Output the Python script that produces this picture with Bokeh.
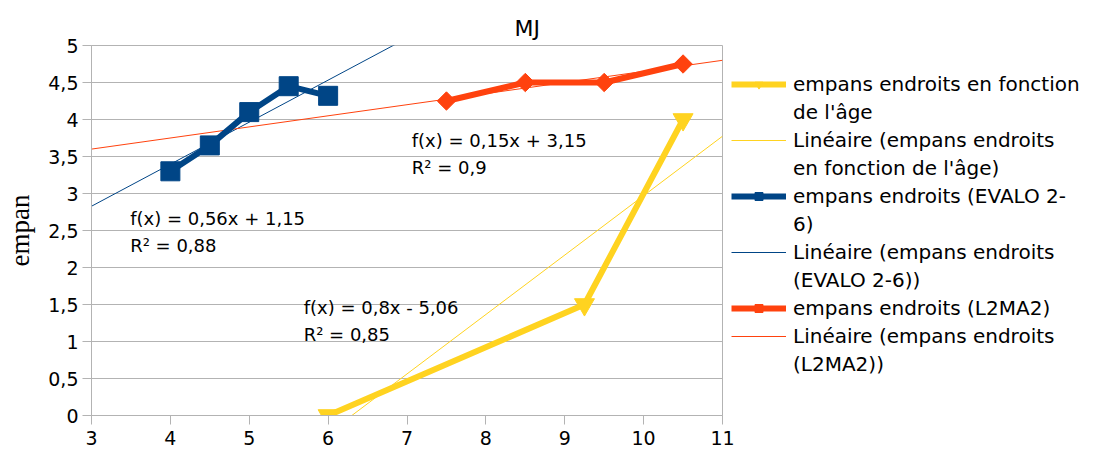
import numpy as np
from bokeh.plotting import figure
from bokeh.models import Legend, LegendItem, Label, FixedTicker, Range1d, CustomJSTickFormatter
from bokeh.embed import file_html
from bokeh.resources import INLINE

# ---- data ----
age_x = [6, 9.25, 10.5]
age_y = [0, 1.5, 4]
evalo_x = [4, 4.5, 5, 5.5, 6]
evalo_y = [3.3, 3.65, 4.1, 4.45, 4.32]
l2ma2_x = [7.5, 8.5, 9.5, 10.5]
l2ma2_y = [4.25, 4.5, 4.5, 4.75]

x_ticks = [3, 4, 5, 6, 7, 8, 9, 10, 11]
y_ticks = [0, 0.5, 1, 1.5, 2, 2.5, 3, 3.5, 4, 4.5, 5]

legend_labels = [
    ["empans endroits en fonction", "de l'âge"],
    ["Linéaire (empans endroits", "en fonction de l'âge)"],
    ["empans endroits (EVALO 2-", "6)"],
    ["Linéaire (empans endroits", "(EVALO 2-6))"],
    ["empans endroits (L2MA2)"],
    ["Linéaire (empans endroits", "(L2MA2))"],
]
eq_age = ["f(x) = 0,8x - 5,06", "R² = 0,85"]
eq_evalo = ["f(x) = 0,56x + 1,15", "R² = 0,88"]
eq_l2ma2 = ["f(x) = 0,15x + 3,15", "R² = 0,9"]

YELLOW = "#FFD320"
BLUE = "#004586"
ORANGE = "#FF420E"
GRID = "#b3b3b3"
FONT = "DejaVu Sans"

X_MIN, X_MAX = x_ticks[0], x_ticks[-1]

p = figure(frame_width=631, frame_height=370,
           x_range=Range1d(X_MIN, X_MAX), y_range=Range1d(y_ticks[0], y_ticks[-1]),
           output_backend="svg", toolbar_location=None, title="MJ",
           min_border_left=91, min_border_top=45, min_border_bottom=30, min_border_right=370)

p.title.align = "left"
p.title.offset = 423
p.title.text_font = FONT
p.title.text_font_size = "22px"
p.title.text_font_style = "normal"
p.title.text_color = "black"
p.title.standoff = 10

p.xaxis.ticker = FixedTicker(ticks=x_ticks)
p.yaxis.ticker = FixedTicker(ticks=y_ticks)
p.yaxis.formatter = CustomJSTickFormatter(code="return tick.toString().replace('.', ',');")
for ax in (p.xaxis, p.yaxis):
    ax.axis_line_color = GRID
    ax.major_tick_line_color = GRID
    ax.minor_tick_line_color = None
    ax.major_tick_out = 9
    ax.major_tick_in = 0
    ax.major_label_text_font = FONT
    ax.major_label_text_font_size = "19px"
    ax.major_label_text_color = "black"
p.xaxis.major_label_standoff = 6
p.yaxis.major_label_standoff = 4
p.yaxis.axis_label = "empan"
p.yaxis.axis_label_text_font = "Liberation Serif"
p.yaxis.axis_label_text_font_size = "27px"
p.yaxis.axis_label_text_font_style = "normal"
p.yaxis.axis_label_text_color = "black"
p.yaxis.axis_label_standoff = 10

p.xgrid.visible = False
p.ygrid.grid_line_color = GRID
p.outline_line_color = GRID


def trend(xs, ys):
    a, b = np.polyfit(xs, ys, 1)
    tx = np.array([X_MIN, X_MAX], dtype=float)
    return tx, a * tx + b


# trend lines
tx, ty = trend(age_x, age_y)
t_age = p.line(tx, ty, line_color=YELLOW, line_width=1)
tx, ty = trend(evalo_x, evalo_y)
t_evalo = p.line(tx, ty, line_color=BLUE, line_width=1)
tx, ty = trend(l2ma2_x, l2ma2_y)
t_l2ma2 = p.line(tx, ty, line_color=ORANGE, line_width=1)

# series
l_age = p.line(age_x, age_y, line_color=YELLOW, line_width=6)
m_age = p.scatter(age_x, age_y, marker="inverted_triangle", size=20, color=YELLOW)
l_evalo = p.line(evalo_x, evalo_y, line_color=BLUE, line_width=6)
m_evalo = p.scatter(evalo_x, evalo_y, marker="square", size=19, color=BLUE)
l_l2ma2 = p.line(l2ma2_x, l2ma2_y, line_color=ORANGE, line_width=6)
m_l2ma2 = p.scatter(l2ma2_x, l2ma2_y, marker="square", angle=np.pi / 4, size=13, color=ORANGE)


def eq(lines, x, y):
    for i, t in enumerate(lines):
        p.add_layout(Label(x=x, y=y, x_offset=0, y_offset=-27 * i, text=t,
                           text_font=FONT, text_font_size="18px", text_color="black",
                           text_baseline="middle"))


eq(eq_evalo, 3.49, 2.66)
eq(eq_l2ma2, 7.06, 3.72)
eq(eq_age, 5.69, 1.46)

renderer_groups = [[l_age, m_age], [t_age], [l_evalo, m_evalo], [t_evalo], [l_l2ma2, m_l2ma2], [t_l2ma2]]
items = []
for lines, rs in zip(legend_labels, renderer_groups):
    items.append(LegendItem(label=lines[0], renderers=rs))
    for extra in lines[1:]:
        items.append(LegendItem(label=extra, renderers=[]))

legend = Legend(items=items, location=(9, 39), border_line_alpha=0, background_fill_alpha=0,
                label_text_font=FONT, label_text_font_size="20px", label_text_color="black",
                glyph_width=55, glyph_height=20, label_height=20, label_standoff=7,
                spacing=4, padding=0, margin=0)
p.add_layout(legend, "right")

open("out.html", "w").write(file_html(p, INLINE))
